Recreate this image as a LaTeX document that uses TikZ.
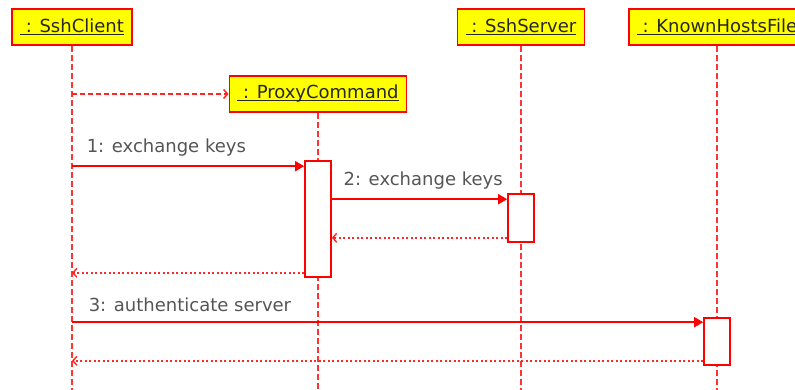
\documentclass[tikz,border=0pt]{standalone}
\usepackage{fontspec}
\setmainfont{DejaVu Sans}
\usetikzlibrary{arrows.meta}

\definecolor{umlred}{RGB}{255,0,0}
\definecolor{umlyellow}{RGB}{255,255,0}
\definecolor{msggray}{RGB}{85,85,85}

% underlined object name
\newcommand{\objline}[1]{\setbox0\hbox{#1}\rlap{\rule[-2.5pt]{\wd0}{1.5pt}}\box0}

\tikzset{
  object/.style={draw=umlred, fill=umlyellow, line width=1.6pt, inner xsep=8pt,
    minimum height=36pt, text=black!85, font=\fontsize{18}{20}\selectfont},
  activation/.style={draw=umlred, fill=white, line width=1.6pt,
    minimum width=26pt, inner sep=0pt},
  lifeline/.style={draw=umlred!80, line width=1.5pt, dash pattern=on 6pt off 3pt},
  call/.style={draw=umlred, line width=1.6pt, -{Triangle[length=9pt,width=10pt]}},
  create/.style={draw=umlred!85, line width=1.5pt, dash pattern=on 5pt off 3pt,
    -{Straight Barb[length=4pt,width=9pt]}},
  reply/.style={draw=umlred!85, line width=1.4pt, dash pattern=on 2pt off 2.5pt,
    -{Straight Barb[length=4pt,width=9pt]}},
  msglabel/.style={text=msggray, inner sep=0pt, anchor=base west,
    font=\fontsize{18}{20}\selectfont}
}

\begin{document}
\begin{tikzpicture}[x=1pt,y=-1pt]
\useasboundingbox (0,0) rectangle (795,390);
\clip (0,0) rectangle (795,390);
\coordinate (bottom) at (0,392);

% objects
\node[object] (client) at (72,27) {\objline{~: SshClient}};
\node[object] (proxy) at (318,94) {\objline{~: ProxyCommand}};
\node[object] (server) at (521,27) {\objline{~: SshServer}};
\node[object] (hosts) at (717,27) {\objline{~: KnownHostsFile}};

% lifelines
\foreach \o in {client,proxy,server,hosts}
  \draw[lifeline] (\o.south) -- (\o.south |- bottom);

% activations
\node[activation, minimum height=116pt] (pxact) at (318,219) {};
\node[activation, minimum height=48pt] (svact) at (521,218) {};
\node[activation, minimum height=47pt] (hfact) at (717,341.5) {};

% creation of the proxy
\draw[create] (client |- proxy) -- (proxy.west);

% 1: client -> proxy
\coordinate (m1) at ([yshift=-6pt]pxact.north west);
\draw[call] (m1 -| client) -- (m1)
  node[msglabel, pos=0, xshift=14pt, yshift=14pt] {1: exchange keys};

% 2: proxy -> server
\coordinate (m2) at ([yshift=-6pt]svact.north west);
\draw[call] (m2 -| pxact.east) -- (m2)
  node[msglabel, pos=0, xshift=11pt, yshift=14pt] {2: exchange keys};
\coordinate (r2) at ([yshift=5pt]svact.south west);
\draw[reply] (r2) -- (r2 -| pxact.east);

% back to the client
\coordinate (r1) at ([yshift=5pt]pxact.south west);
\draw[reply] (r1) -- (r1 -| client);

% 3: client -> known hosts
\coordinate (m3) at ([yshift=-5pt]hfact.north west);
\draw[call] (m3 -| client) -- (m3)
  node[msglabel, pos=0, xshift=16pt, yshift=11pt] {3: authenticate server};
\coordinate (r3) at ([yshift=5pt]hfact.south west);
\draw[reply] (r3) -- (r3 -| client);
\end{tikzpicture}
\end{document}
